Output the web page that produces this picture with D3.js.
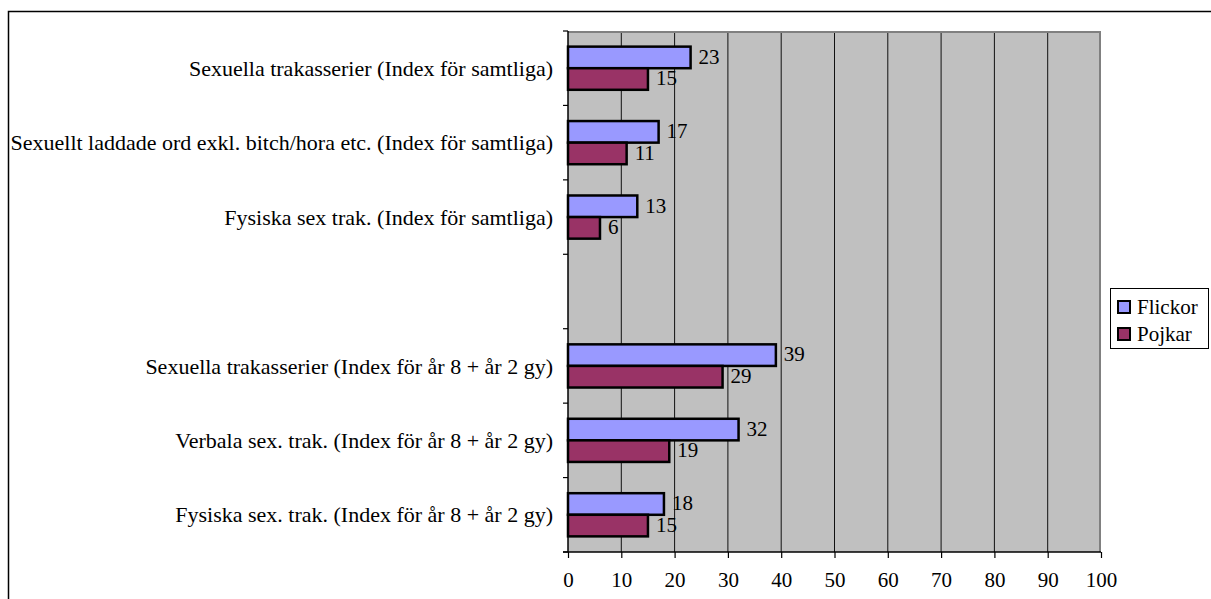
<!DOCTYPE html>
<html>
<head>
<meta charset="UTF-8">
<title>Sexuella trakasserier</title>
<script src="https://cdn.jsdelivr.net/npm/d3@7/dist/d3.min.js"></script>
<style>
    body { margin: 0; background: #fff; }
    svg text { font-family: "Liberation Serif", "Times New Roman", serif; fill: #000; }
</style>
</head>
<body>
<svg id="chart" width="1211" height="599"></svg>
<script>

// categories, top to bottom (the empty one is a gap in the original)
var categories = [
    "Sexuella trakasserier (Index för samtliga)",
    "Sexuellt laddade ord exkl. bitch/hora etc. (Index för samtliga)",
    "Fysiska sex trak. (Index för samtliga)",
    "",
    "Sexuella trakasserier (Index för år 8 + år 2 gy)",
    "Verbala sex. trak. (Index för år 8 + år 2 gy)",
    "Fysiska sex. trak. (Index för år 8 + år 2 gy)"
];
var flickor = [23, 17, 13, null, 39, 32, 18];
var pojkar = [15, 11, 6, null, 29, 19, 15];
var seriesNames = ["Flickor", "Pojkar"];
var seriesColors = ["#9999ff", "#993366"];
var xTicks = [0, 10, 20, 30, 40, 50, 60, 70, 80, 90, 100];

var svg = d3.select("#chart");

// outer chart frame (runs off the right and bottom edges)
svg.append("rect")
    .attr("x", 8.5).attr("y", 11.5)
    .attr("width", 1300).attr("height", 700)
    .attr("fill", "none").attr("stroke", "#000").attr("stroke-width", 1.5);

var plot = { left: 568, right: 1101, top: 31, bottom: 552 };

var x = d3.scaleLinear().domain([0, 100]).range([plot.left, plot.right]);
var y = d3.scaleBand().domain(d3.range(categories.length))
    .range([plot.top, plot.bottom]).padding(0);
var ySeries = d3.scaleBand().domain(d3.range(2))
    .range([y.bandwidth() * 0.21, y.bandwidth() * 0.79]).padding(0);

// gray plot area
svg.append("rect")
    .attr("x", plot.left).attr("y", plot.top)
    .attr("width", plot.right - plot.left).attr("height", plot.bottom - plot.top)
    .attr("fill", "#c0c0c0");

// vertical grid lines
svg.append("g").selectAll("line")
    .data(xTicks.slice(1, -1))
    .join("line")
    .attr("x1", d => x(d)).attr("x2", d => x(d))
    .attr("y1", plot.top).attr("y2", plot.bottom)
    .attr("stroke", "#111").attr("stroke-width", 1);

// top and right border of plot area
svg.append("path")
    .attr("d", "M" + plot.left + "," + (plot.top + 1) + "H" + (plot.right - 1) + "V" + plot.bottom)
    .attr("fill", "none").attr("stroke", "#808080").attr("stroke-width", 2);

// bars
var rows = categories.map(function(c, i) { return { i: i, vals: [flickor[i], pojkar[i]] }; });
var groups = svg.append("g").selectAll("g")
    .data(rows)
    .join("g")
    .attr("transform", d => "translate(0," + y(d.i) + ")");

groups.selectAll("rect")
    .data(d => d.vals.map((v, s) => ({ v: v, s: s })).filter(e => e.v !== null))
    .join("rect")
    .attr("x", x(0))
    .attr("y", d => ySeries(d.s))
    .attr("width", d => x(d.v) - x(0))
    .attr("height", ySeries.bandwidth())
    .attr("fill", d => seriesColors[d.s])
    .attr("stroke", "#000").attr("stroke-width", 2.5);

// value labels
groups.selectAll("text")
    .data(d => d.vals.map((v, s) => ({ v: v, s: s })).filter(e => e.v !== null))
    .join("text")
    .attr("x", d => x(d.v) + 8)
    .attr("y", d => ySeries(d.s) + ySeries.bandwidth() / 2 - 1)
    .attr("dy", "0.35em")
    .attr("font-size", "21px")
    .text(d => d.v);

// x axis
var xAxis = svg.append("g")
    .attr("transform", "translate(0," + plot.bottom + ")")
    .call(d3.axisBottom(x).tickValues(xTicks).tickSize(6).tickPadding(14).tickSizeOuter(0));
xAxis.select(".domain").attr("stroke", "#000").attr("stroke-width", 1.5)
    .attr("d", "M" + (plot.left - 5) + ",0H" + plot.right);
xAxis.selectAll(".tick line").attr("stroke", "#000").attr("stroke-width", 1.2);
xAxis.selectAll("text").attr("font-size", "21px").attr("font-family", "Liberation Serif");

// y axis: ticks at band boundaries, labels centred in bands
var yAxisG = svg.append("g");
yAxisG.append("line")
    .attr("x1", plot.left).attr("x2", plot.left)
    .attr("y1", plot.top).attr("y2", plot.bottom)
    .attr("stroke", "#000").attr("stroke-width", 1.5);
yAxisG.selectAll("line.tk")
    .data(d3.range(categories.length + 1))
    .join("line")
    .attr("class", "tk")
    .attr("x1", plot.left - 5).attr("x2", plot.left)
    .attr("y1", d => plot.top + d * y.step()).attr("y2", d => plot.top + d * y.step())
    .attr("stroke", "#000").attr("stroke-width", 1.2);
yAxisG.selectAll("text")
    .data(categories)
    .join("text")
    .attr("x", plot.left - 15)
    .attr("y", (d, i) => y(i) + y.bandwidth() / 2)
    .attr("dy", "0.35em")
    .attr("text-anchor", "end")
    .attr("font-size", "22px")
    .text(d => d);

// legend
var legend = svg.append("g").attr("transform", "translate(1110,288)");
legend.append("rect")
    .attr("x", 0.5).attr("y", 0.5).attr("width", 98).attr("height", 60)
    .attr("fill", "#fff").attr("stroke", "#000").attr("stroke-width", 1);
var items = legend.selectAll("g")
    .data(seriesNames)
    .join("g")
    .attr("transform", (d, i) => "translate(8," + (13 + i * 27) + ")");
items.append("rect")
    .attr("width", 12).attr("height", 12)
    .attr("fill", (d, i) => seriesColors[i])
    .attr("stroke", "#000").attr("stroke-width", 2);
items.append("text")
    .attr("x", 19).attr("y", 6)
    .attr("dy", "0.35em")
    .attr("font-size", "21px")
    .text(d => d);

</script>
</body>
</html>
